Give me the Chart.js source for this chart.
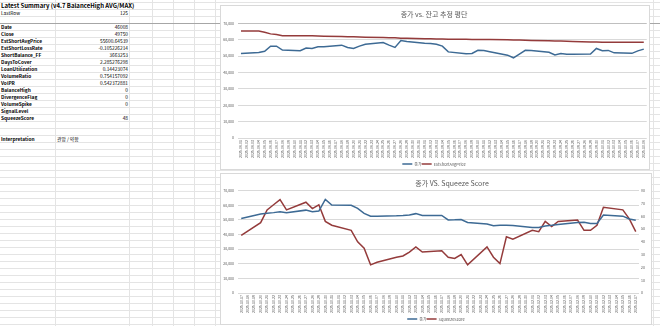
<!DOCTYPE html>
<html>
<head>
<meta charset="utf-8">
<script src="https://cdn.jsdelivr.net/npm/chart.js@4.4.0/dist/chart.umd.min.js"></script>
<style>
html, body { margin: 0; padding: 0; }
body {
    width: 660px; height: 326px; position: relative; overflow: hidden; background: #fff;
    font-family: 'Noto Sans CJK KR', 'Noto Sans', sans-serif;
    background-image: repeating-linear-gradient(to bottom, #e4e4e4 0, #e4e4e4 1px, transparent 1px, transparent 7px);
    background-position: 0 2px;
}
.vl { position: absolute; top: 0; width: 1px; height: 326px; background: #e4e4e4; }
.hl { position: absolute; left: 0; height: 1px; width: 660px; background: #a6a6a6; top: 23px; }
.cell { position: absolute; height: 7px; line-height: 7px; font-size: 4.8px; color: #000; white-space: nowrap; }
.lab { left: 1px; font-weight: bold; }
.val { right: 532px; text-align: right; }
.box { position: absolute; background: #fff; border: 1px solid #d9d9d9; box-sizing: border-box; }
canvas { position: absolute; }
</style>
</head>
<body>
<div class="vl" style="left:55px"></div>
<div class="vl" style="left:129px"></div>
<div class="vl" style="left:152px"></div>
<div class="vl" style="left:173px"></div>
<div class="vl" style="left:194px"></div>
<div class="vl" style="left:215px"></div>
<div class="vl" style="left:653px"></div>
<div class="hl"></div>

<div id="table"></div>

<div class="box" style="left:220px;top:5px;width:430px;height:165px"></div>
<div class="box" style="left:220px;top:173px;width:432px;height:152px"></div>
<canvas id="priceChart" width="430" height="165" style="left:220px;top:5px"></canvas>
<canvas id="squeezeChart" width="432" height="152" style="left:220px;top:173px"></canvas>

<script>
// summary table
const summaryLabels = ['Date', 'Close', 'EstShortAvgPrice', 'EstShortLossRate', 'ShortBalance_FF', 'DaysToCover',
    'LoanUtilization', 'VolumeRatio', 'VolPR', 'BalanceHigh', 'DivergenceFlag', 'VolumeSpike', 'SignalLevel', 'SqueezeScore'];
const summaryValues = ['46008', '49750', '55600.64539', '-0.105226214', '3663253', '2.285276298',
    '0.14423074', '0.754157092', '0.542372881', '0', '0', '0', '', '48'];

// chart 1: 종가 vs. 잔고 추정 평단
const dates1 = [
    '2025-08-01','2025-08-02','2025-08-03','2025-08-04','2025-08-05','2025-08-06','2025-08-07','2025-08-08',
    '2025-08-09','2025-08-10','2025-08-11','2025-08-12','2025-08-13','2025-08-14','2025-08-15','2025-08-16',
    '2025-08-17','2025-08-18','2025-08-19','2025-08-20','2025-08-21','2025-08-22','2025-08-23','2025-08-24',
    '2025-08-25','2025-08-26','2025-08-27','2025-08-28','2025-08-29','2025-08-30','2025-08-31','2025-09-01',
    '2025-09-02','2025-09-03','2025-09-04','2025-09-05','2025-09-06','2025-09-07','2025-09-08','2025-09-09',
    '2025-09-10','2025-09-11','2025-09-12','2025-09-13','2025-09-14','2025-09-15','2025-09-16','2025-09-17',
    '2025-09-18','2025-09-19','2025-09-20','2025-09-21','2025-09-22','2025-09-23','2025-09-24','2025-09-25',
    '2025-09-26','2025-09-27','2025-09-28','2025-09-29','2025-09-30','2025-10-01','2025-10-02','2025-10-03',
    '2025-10-04','2025-10-05','2025-10-06','2025-10-07','2025-10-08'
];
const close1 = [
    51600, null, null, 52200, 53000, 56100, 56100, 53700, null, null,
    53300, 55000, 54700, 55700, 55700, null, null, 56700, 55300, 54700,
    56100, 57300, null, null, 58300, 56700, 55300, 59500, 59000, null,
    null, 57900, 57700, 57200, 56100, 52600, null, null, 51400, 51600,
    53600, 53400, 52700, null, null, 50600, 49000, 51300, 53600, 53400,
    null, null, 52400, 50700, 51600, 51100, 51200, null, null, 51300,
    54700, 53300, 53500, 52000, null, null, 51700, 53200, 54300
];
const estAvg1 = [
    65300, null, null, 65300, 64600, 63600, 63200, 62500, null, null,
    62400, 62400, 62400, 62300, 62200, null, null, 62000, 61900, 61800,
    61700, 61600, null, null, 61400, 61300, 61200, 61000, 60900, null,
    null, 60700, 60600, 60500, 60400, 60300, null, null, 60300, 60200,
    60200, 60200, 60100, null, null, 60000, 59900, 59800, 59700, 59600,
    null, null, 59400, 59300, 59200, 59100, 59000, null, null, 58700,
    58600, 58500, 58500, 58500, null, null, 58500, 58500, 58500
];

// chart 2: 종가 VS. Squeeze Score
const dates2 = [
    '2025-10-17','2025-10-18','2025-10-19','2025-10-20','2025-10-21','2025-10-22','2025-10-23','2025-10-24',
    '2025-10-25','2025-10-26','2025-10-27','2025-10-28','2025-10-29','2025-10-30','2025-10-31','2025-11-01',
    '2025-11-02','2025-11-03','2025-11-04','2025-11-05','2025-11-06','2025-11-07','2025-11-08','2025-11-09',
    '2025-11-10','2025-11-11','2025-11-12','2025-11-13','2025-11-14','2025-11-15','2025-11-16','2025-11-17',
    '2025-11-18','2025-11-19','2025-11-20','2025-11-21','2025-11-22','2025-11-23','2025-11-24','2025-11-25',
    '2025-11-26','2025-11-27','2025-11-28','2025-11-29','2025-11-30','2025-12-01','2025-12-02','2025-12-03',
    '2025-12-04','2025-12-05','2025-12-06','2025-12-07','2025-12-08','2025-12-09','2025-12-10','2025-12-11',
    '2025-12-12','2025-12-13','2025-12-14','2025-12-15','2025-12-16','2025-12-17'
];
const close2 = [
    51000, null, null, 54000, 54500, 55000, 55600, 54900, null, null,
    56700, 55600, 56100, 64000, 60200, null, null, 60000, 57900, 54500,
    52600, 52600, null, null, 52800, 53000, 53300, 54300, 53000, null,
    null, 53100, 50000, 50100, 50300, 48300, null, null, 47200, 46000,
    46400, 46300, 46200, null, null, 44900, 44800, 45800, 46300, 46900,
    null, null, 48300, 48400, 47600, 47600, 53300, null, null, 52600,
    50600, 49750
];
const squeeze2 = [
    45, null, null, 55, 65, 69, 73, 65, null, null,
    71, 66, 69, 56, 53, null, null, 49, 40, 35,
    22, 24, null, null, 28, 29, 32, 36, 32, null,
    null, 33, 28, 27, 30, 22, null, null, 36, 28,
    23, 44, 42, null, null, 49, 48, 56, 52, 56,
    null, null, 57, 49, 49, 53, 67, null, null, 65,
    58, 48
];

const BLUE = '#3d6a94';
const RED = '#943b3b';
const GRID = '#d9d9d9';

function buildTable() {
    const t = document.getElementById('table');
    const add = (cls, text, row, style) => {
        const d = document.createElement('div');
        d.className = 'cell ' + cls;
        d.textContent = text;
        d.style.top = (2 + 7 * row) + 'px';
        if (style) d.style.cssText += style;
        t.appendChild(d);
    };
    add('', 'Latest Summary (v4.7 BalanceHigh AVG/MAX)', 0, 'left:1px;font-weight:bold;font-size:6px;');
    add('', 'LastRow', 1, 'left:1px;');
    add('val', '125', 1);
    summaryLabels.forEach((l, i) => {
        add('lab', l, 3 + i);
        add('val', summaryValues[i], 3 + i);
    });
    add('lab', 'Interpretation', 19);
    add('', '관망 / 약함', 19, 'left:57px;');
}

Chart.defaults.font.family = "'Noto Sans CJK KR', 'Noto Sans', sans-serif";
Chart.defaults.color = '#595959';
Chart.defaults.animation = false;

function lineSet(label, data, color, axis) {
    return {
        label: label,
        data: data,
        borderColor: color,
        backgroundColor: color,
        borderWidth: 1.5,
        pointRadius: 0,
        tension: 0,
        spanGaps: true,
        yAxisID: axis
    };
}

function xAxis() {
    return {
        offset: true,
        grid: { display: false, drawTicks: false },
        border: { display: false },
        ticks: { autoSkip: false, minRotation: 90, maxRotation: 90, padding: 2, font: { size: 3.5 } },
        afterFit: s => { s.height = 24; }
    };
}

function legendOpts() {
    return {
        position: 'bottom',
        labels: {
            usePointStyle: true, pointStyle: 'line', pointStyleWidth: 10,
            padding: 0, font: { size: 4 }, color: '#595959'
        }
    };
}

function renderPriceChart() {
    const ctx = document.getElementById('priceChart').getContext('2d');
    new Chart(ctx, {
        type: 'line',
        data: {
            labels: dates1,
            datasets: [
                lineSet('종가', close1, BLUE, 'y'),
                lineSet('EstShortAvgPrice', estAvg1, RED, 'y')
            ]
        },
        options: {
            responsive: false,
            devicePixelRatio: 1,
            layout: { padding: { left: 0, right: 2, top: 0, bottom: -6 } },
            plugins: {
                title: { display: true, text: '종가 vs. 잔고 추정 평단', font: { size: 7, weight: 'normal' }, padding: { top: 5, bottom: 5 } },
                legend: legendOpts(),
                tooltip: { enabled: false }
            },
            scales: {
                x: xAxis(),
                y: {
                    min: 0, max: 70000,
                    grid: { color: c => c.tick && c.tick.value === 70000 ? '#bfbfbf' : GRID, drawTicks: false },
                    border: { display: false },
                    ticks: { stepSize: 10000, padding: 4, font: { size: 3.5 }, callback: v => v.toLocaleString('en-US') },
                    afterFit: s => { s.width = 18; }
                }
            }
        }
    });
}

function renderSqueezeChart() {
    const ctx = document.getElementById('squeezeChart').getContext('2d');
    const shiftTitle = {
        id: 'shiftTitle',
        afterLayout(chart) {
            if (chart.titleBlock) {
                chart.titleBlock.left += 16;
                chart.titleBlock.right += 16;
            }
        }
    };
    new Chart(ctx, {
        type: 'line',
        data: {
            labels: dates2,
            datasets: [
                lineSet('종가', close2, BLUE, 'y'),
                lineSet('SqueezeScore', squeeze2, RED, 'y1')
            ]
        },
        options: {
            responsive: false,
            devicePixelRatio: 1,
            layout: { padding: { left: 0, right: 0, top: 0, bottom: -6 } },
            plugins: {
                title: { display: true, text: '종가 VS. Squeeze Score', font: { size: 7, weight: 'normal' }, padding: { top: 5.8, bottom: 3.5 } },
                legend: legendOpts(),
                tooltip: { enabled: false }
            },
            scales: {
                x: xAxis(),
                y: {
                    position: 'left',
                    min: 0, max: 70000,
                    grid: { color: GRID, drawTicks: false },
                    border: { display: false },
                    ticks: { stepSize: 10000, padding: 4, font: { size: 3.5 }, callback: v => v.toLocaleString('en-US') },
                    afterFit: s => { s.width = 18; }
                },
                y1: {
                    position: 'right',
                    min: 0, max: 80,
                    grid: { display: false, drawTicks: false },
                    border: { display: false },
                    ticks: { stepSize: 10, padding: 2, font: { size: 3.5 } },
                    afterFit: s => { s.width = 13; }
                }
            }
        },
        plugins: [shiftTitle]
    });
}

buildTable();
renderPriceChart();
renderSqueezeChart();
</script>
</body>
</html>
